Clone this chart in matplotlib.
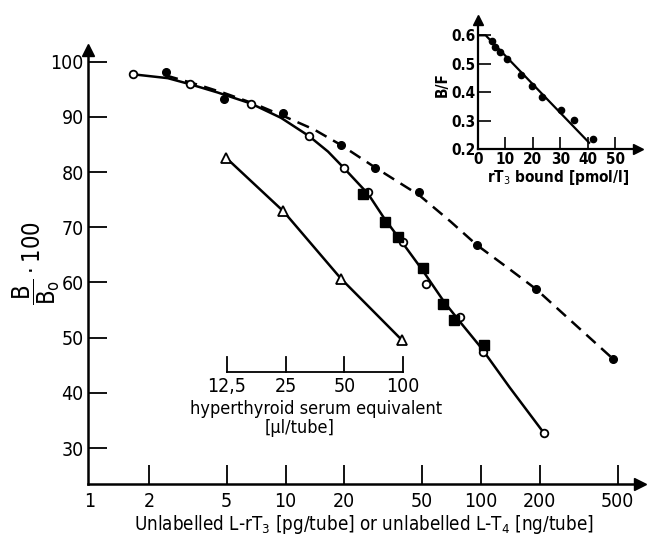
import matplotlib
matplotlib.use('Agg')
import matplotlib.pyplot as plt

plt.rcParams['font.family'] = ['DejaVu Sans']
plt.rcParams['font.stretch'] = 'condensed'
plt.rcParams['mathtext.fontset'] = 'dejavusans'
fs = 14

# main chart: open circles (solid curve)
open_x = [1.66, 3.25, 6.66, 13.2, 19.8, 26.5, 39.7, 52.3, 78.1, 102, 210]
open_y = [97.7, 95.9, 92.4, 86.5, 80.8, 76.3, 67.4, 59.7, 53.8, 47.4, 32.7]
# filled squares (on the solid curve)
sq_x = [25.0, 32.3, 37.5, 50.7, 64.2, 72.8, 103.6]
sq_y = [76.0, 71.0, 68.3, 62.7, 56.1, 53.2, 48.7]
# filled circles (dashed curve)
fill_x = [2.44, 4.86, 9.68, 19.2, 28.8, 48.3, 95, 191, 475]
fill_y = [98.1, 93.2, 90.6, 84.9, 80.8, 76.3, 66.8, 58.9, 46.1]
# triangles (hyperthyroid serum)
tri_x = [4.96, 9.75, 19.2, 39.3]
tri_y = [82.6, 72.9, 60.7, 49.6]

# hand drawn curves
solid_cx = [1.66, 2.5, 3.25, 4.5, 6.66, 9.5, 13.2, 16.5, 19.8, 26.5, 32, 40, 50, 65, 80, 100, 140, 210]
solid_cy = [97.7, 97.0, 95.9, 94.4, 92.4, 89.8, 86.5, 83.7, 80.8, 76.0, 71.6, 67.0, 62.3, 56.4, 52.4, 48.2, 41.0, 32.7]
dash_cx = [2.44, 3.5, 4.86, 7, 9.68, 14, 19.2, 28.8, 48.3, 70, 95, 140, 191, 300, 475]
dash_cy = [97.5, 95.9, 94.3, 92.3, 90.2, 87.7, 84.9, 80.8, 75.8, 71.0, 66.8, 62.4, 58.8, 52.5, 46.1]

x_ticks = [2, 5, 10, 20, 50, 100, 200, 500]
x_labels = ['2', '5', '10', '20', '50', '100', '200', '500']
y_ticks = [30, 40, 50, 60, 70, 80, 90, 100]

# hyperthyroid serum equivalent scale
hyp_pos = [5, 10, 20, 40]
hyp_labels = ['12,5', '25', '50', '100']

# inset: B/F vs rT3 bound
bf_x = [5.25, 6.1, 7.9, 10.4, 15.8, 19.8, 23.5, 30.1, 34.9, 42.0]
bf_y = [0.579, 0.558, 0.542, 0.515, 0.462, 0.423, 0.384, 0.339, 0.302, 0.234]
bf_line_x = [0, 2.8, 40.5]
bf_line_y = [0.6, 0.6, 0.222]

fig = plt.figure(figsize=(6.5, 5.35), dpi=100)
ax = fig.add_axes([88 / 650, 51 / 535, 552 / 650, 434 / 535])

ax.plot(solid_cx, solid_cy, color='black', lw=1.8)
ax.plot(dash_cx, dash_cy, color='black', lw=1.8, ls=(0, (5, 3)))
ax.plot(tri_x, tri_y, color='black', lw=1.8)
ax.plot(open_x, open_y, 'o', ms=5.5, mfc='white', mec='black', mew=1.3)
ax.plot(sq_x, sq_y, 's', ms=6.5, color='black')
ax.plot(fill_x, fill_y, 'o', ms=5.5, color='black')
ax.plot(tri_x, tri_y, '^', ms=7, mfc='white', mec='black', mew=1.3)

ax.set_xscale('log')
ax.set_xlim(0.977, 650)
ax.set_ylim(23.5, 102.1)
for s in ['top', 'right']:
    ax.spines[s].set_visible(False)
for s in ['left', 'bottom']:
    ax.spines[s].set_linewidth(1.8)
ax.plot(1, 0, '>', color='black', ms=9, transform=ax.transAxes, clip_on=False)
ax.plot(0, 1, '^', color='black', ms=9, transform=ax.transAxes, clip_on=False)

ax.set_xticks(x_ticks)
ax.set_xticklabels(x_labels)
ax.minorticks_off()
ax.set_yticks(y_ticks)
ax.tick_params(axis='both', direction='in', length=14, width=1.3, labelsize=fs)
ax.tick_params(axis='x', pad=6)
ax.tick_params(axis='y', pad=3)
ax.text(1, -0.018, '1', transform=ax.get_xaxis_transform(), ha='center', va='top', fontsize=fs)
ax.set_xlabel('Unlabelled L-rT$_3$ [pg/tube] or unlabelled L-T$_4$ [ng/tube]', fontsize=13.5, labelpad=1)
fig.text(36 / 650, 1 - 263 / 535, r'$\dfrac{\mathrm{B}}{\mathrm{B_o}}\cdot\mathrm{100}$',
         rotation=90, ha='center', va='center', fontsize=17)

# hyperthyroid serum scale
hy = 43.8
ax.plot([hyp_pos[0], hyp_pos[-1]], [hy, hy], color='black', lw=1.3)
for p, lab in zip(hyp_pos, hyp_labels):
    ax.plot([p, p], [hy, hy + 2.7], color='black', lw=1.3)
    ax.text(p, hy - 1.0, lab, ha='center', va='top', fontsize=fs)
ax.text(14.3, hy - 5.0, 'hyperthyroid serum equivalent', ha='center', va='top', fontsize=13)
ax.text(11.8, hy - 8.6, '[µl/tube]', ha='center', va='top', fontsize=13)

# inset
ins = fig.add_axes([478 / 650, 1 - 149 / 535, 160 / 650, 129 / 535])
ins.plot(bf_line_x, bf_line_y, color='black', lw=1.6)
ins.plot(bf_x, bf_y, 'o', ms=4.5, color='black')
ins.set_xlim(0, 58.3)
ins.set_ylim(0.2, 0.654)
for s in ['top', 'right']:
    ins.spines[s].set_visible(False)
for s in ['left', 'bottom']:
    ins.spines[s].set_linewidth(1.6)
ins.plot(1, 0, '>', color='black', ms=7, transform=ins.transAxes, clip_on=False)
ins.plot(0, 1, '^', color='black', ms=7, transform=ins.transAxes, clip_on=False)
ins.set_xticks([0, 10, 20, 30, 40, 50])
ins.set_yticks([0.2, 0.3, 0.4, 0.5, 0.6])
ins.set_yticklabels(['0.2', '0.3', '0.4', '0.5', '0.6'])
ins.tick_params(axis='both', direction='in', length=9, width=1.2, labelsize=11, pad=2)
for lab in ins.get_xticklabels() + ins.get_yticklabels():
    lab.set_fontweight('bold')
ins.set_xlabel('rT$_3$ bound [pmol/l]', fontsize=11, fontweight='bold', labelpad=1)
ins.set_ylabel('B/F', fontsize=11, fontweight='bold', labelpad=1)

fig.savefig('out.png', dpi=100)
